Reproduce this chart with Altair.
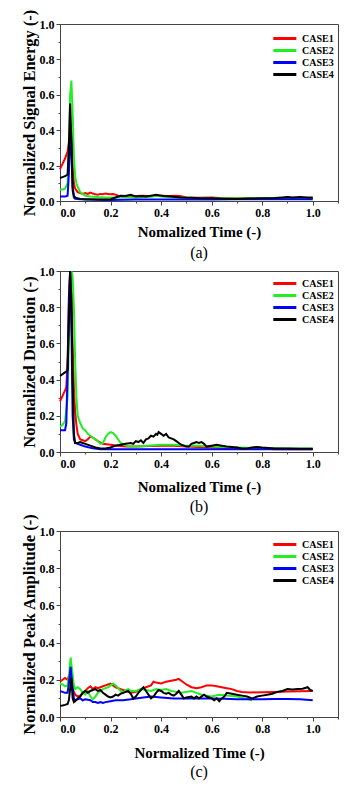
import altair as alt
import pandas as pd

CASES = ["CASE1", "CASE2", "CASE3", "CASE4"]
COLORS = ["#FF0000", "#22EE22", "#0000FF", "#000000"]
X_TICKS = [0.0, 0.1, 0.2, 0.3, 0.4, 0.5, 0.6, 0.7, 0.8, 0.9, 1.0, 1.1]
Y_TICKS = [0.0, 0.1, 0.2, 0.3, 0.4, 0.5, 0.6, 0.7, 0.8, 0.9, 1.0]

# ---- panel (a): Normalized Signal Energy ----
a_case1 = [(0, 0.18), (0.01, 0.21), (0.02, 0.24), (0.03, 0.28), (0.035, 0.33), (0.04, 0.42), (0.045, 0.38),
           (0.05, 0.2), (0.055, 0.1), (0.06, 0.07), (0.07, 0.05), (0.08, 0.045), (0.09, 0.04), (0.1, 0.045),
           (0.11, 0.04), (0.12, 0.048), (0.13, 0.042), (0.14, 0.038), (0.15, 0.035), (0.16, 0.04), (0.17, 0.038),
           (0.18, 0.042), (0.19, 0.04), (0.2, 0.038), (0.21, 0.04), (0.22, 0.036), (0.23, 0.03), (0.25, 0.028),
           (0.28, 0.03), (0.3, 0.028), (0.33, 0.03), (0.36, 0.027), (0.4, 0.03), (0.43, 0.028), (0.46, 0.03),
           (0.48, 0.027), (0.5, 0.02), (0.55, 0.018), (0.6, 0.02), (0.65, 0.016), (0.7, 0.015), (0.75, 0.016),
           (0.8, 0.015), (0.85, 0.016), (0.9, 0.018), (0.95, 0.017), (1.0, 0.016)]
a_case2 = [(0, 0.065), (0.01, 0.065), (0.02, 0.07), (0.03, 0.1), (0.035, 0.3), (0.04, 0.6), (0.045, 0.68),
           (0.05, 0.5), (0.055, 0.25), (0.06, 0.14), (0.065, 0.1), (0.07, 0.08), (0.08, 0.05), (0.09, 0.04),
           (0.1, 0.03), (0.12, 0.025), (0.15, 0.022), (0.18, 0.02), (0.2, 0.02), (0.22, 0.02), (0.25, 0.022),
           (0.3, 0.02), (0.35, 0.022), (0.38, 0.03), (0.4, 0.025), (0.45, 0.02), (0.5, 0.018), (0.6, 0.015),
           (0.7, 0.015), (0.8, 0.015), (0.9, 0.015), (1.0, 0.015)]
a_case3 = [(0, 0.025), (0.02, 0.025), (0.03, 0.03), (0.035, 0.15), (0.04, 0.35), (0.043, 0.4), (0.047, 0.2),
           (0.05, 0.06), (0.055, 0.02), (0.06, 0.012), (0.08, 0.01), (0.1, 0.008), (0.2, 0.006), (0.3, 0.008),
           (0.4, 0.008), (0.5, 0.008), (0.6, 0.008), (0.7, 0.01), (0.8, 0.01), (0.9, 0.01), (1.0, 0.01)]
a_case4 = [(0, 0.13), (0.01, 0.135), (0.02, 0.14), (0.03, 0.15), (0.035, 0.3), (0.04, 0.55), (0.045, 0.35),
           (0.05, 0.08), (0.055, 0.03), (0.06, 0.02), (0.07, 0.015), (0.08, 0.012), (0.1, 0.01), (0.12, 0.01),
           (0.15, 0.008), (0.18, 0.008), (0.2, 0.01), (0.22, 0.02), (0.24, 0.03), (0.26, 0.028), (0.28, 0.035),
           (0.3, 0.025), (0.32, 0.028), (0.34, 0.025), (0.36, 0.03), (0.38, 0.035), (0.39, 0.033), (0.41, 0.028),
           (0.44, 0.025), (0.48, 0.02), (0.52, 0.018), (0.56, 0.015), (0.6, 0.015), (0.65, 0.013), (0.7, 0.012),
           (0.75, 0.014), (0.8, 0.015), (0.85, 0.017), (0.88, 0.02), (0.9, 0.022), (0.92, 0.02), (0.95, 0.023),
           (0.98, 0.02), (1.0, 0.02)]

# ---- panel (b): Normalized Duration ----
b_case1 = [(0, 0.28), (0.01, 0.31), (0.02, 0.34), (0.025, 0.36), (0.03, 0.5), (0.035, 0.8), (0.04, 1.0),
           (0.045, 0.9), (0.05, 0.6), (0.055, 0.35), (0.06, 0.22), (0.065, 0.15), (0.07, 0.1), (0.08, 0.07),
           (0.09, 0.065), (0.1, 0.06), (0.11, 0.07), (0.12, 0.085), (0.13, 0.08), (0.14, 0.07), (0.15, 0.06),
           (0.17, 0.045), (0.2, 0.04), (0.23, 0.035), (0.26, 0.03), (0.3, 0.03), (0.35, 0.033), (0.4, 0.035),
           (0.45, 0.035), (0.5, 0.03), (0.55, 0.028), (0.6, 0.025), (0.7, 0.02), (0.8, 0.02), (0.85, 0.015),
           (0.9, 0.015), (1.0, 0.015)]
b_case2 = [(0, 0.14), (0.01, 0.15), (0.02, 0.17), (0.03, 0.3), (0.035, 0.6), (0.04, 0.9), (0.045, 1.0),
           (0.05, 0.97), (0.055, 0.8), (0.06, 0.5), (0.065, 0.3), (0.07, 0.2), (0.08, 0.16), (0.09, 0.13),
           (0.1, 0.12), (0.11, 0.1), (0.12, 0.09), (0.13, 0.08), (0.14, 0.07), (0.15, 0.06), (0.16, 0.045),
           (0.17, 0.05), (0.18, 0.08), (0.19, 0.1), (0.2, 0.11), (0.21, 0.105), (0.22, 0.09), (0.23, 0.07),
           (0.24, 0.05), (0.26, 0.035), (0.28, 0.03), (0.3, 0.03), (0.35, 0.035), (0.4, 0.04), (0.45, 0.04),
           (0.5, 0.035), (0.55, 0.035), (0.6, 0.03), (0.7, 0.025), (0.8, 0.022), (0.9, 0.02), (1.0, 0.02)]
b_case3 = [(0, 0.12), (0.01, 0.12), (0.02, 0.12), (0.025, 0.16), (0.03, 0.45), (0.035, 0.85), (0.04, 1.0),
           (0.045, 0.7), (0.05, 0.2), (0.055, 0.07), (0.06, 0.05), (0.07, 0.045), (0.08, 0.04), (0.1, 0.03),
           (0.13, 0.02), (0.16, 0.015), (0.2, 0.015), (0.3, 0.015), (0.4, 0.015), (0.5, 0.015), (0.6, 0.015),
           (0.7, 0.015), (0.8, 0.015), (0.9, 0.015), (1.0, 0.015)]
b_case4 = [(0, 0.42), (0.01, 0.43), (0.02, 0.44), (0.03, 0.45), (0.035, 0.7), (0.04, 1.0), (0.045, 0.85),
           (0.05, 0.4), (0.055, 0.1), (0.06, 0.05), (0.065, 0.05), (0.07, 0.05), (0.08, 0.055), (0.09, 0.05),
           (0.1, 0.045), (0.12, 0.035), (0.14, 0.025), (0.16, 0.02), (0.18, 0.02), (0.2, 0.025), (0.22, 0.035),
           (0.24, 0.04), (0.26, 0.045), (0.28, 0.05), (0.29, 0.045), (0.3, 0.06), (0.31, 0.055), (0.32, 0.065),
           (0.33, 0.05), (0.34, 0.07), (0.35, 0.075), (0.36, 0.09), (0.37, 0.085), (0.38, 0.1), (0.385, 0.095),
           (0.39, 0.11), (0.4, 0.1), (0.41, 0.09), (0.42, 0.1), (0.43, 0.08), (0.44, 0.075), (0.45, 0.07),
           (0.46, 0.06), (0.47, 0.05), (0.48, 0.04), (0.49, 0.035), (0.5, 0.03), (0.51, 0.03), (0.52, 0.045),
           (0.53, 0.05), (0.54, 0.055), (0.55, 0.05), (0.56, 0.055), (0.57, 0.045), (0.58, 0.03), (0.6, 0.035),
           (0.62, 0.04), (0.64, 0.035), (0.66, 0.03), (0.7, 0.025), (0.72, 0.02), (0.74, 0.02), (0.76, 0.025),
           (0.78, 0.028), (0.8, 0.025), (0.85, 0.02), (0.9, 0.02), (0.95, 0.018), (1.0, 0.018)]

# ---- panel (c): Normalized Peak Amplitude ----
c_case1 = [(0, 0.19), (0.01, 0.2), (0.02, 0.21), (0.03, 0.2), (0.035, 0.22), (0.04, 0.24), (0.045, 0.2),
           (0.05, 0.15), (0.06, 0.12), (0.07, 0.11), (0.08, 0.115), (0.09, 0.13), (0.1, 0.14), (0.11, 0.155),
           (0.12, 0.165), (0.13, 0.15), (0.14, 0.16), (0.15, 0.155), (0.16, 0.16), (0.17, 0.165), (0.18, 0.17),
           (0.19, 0.175), (0.2, 0.18), (0.21, 0.17), (0.22, 0.16), (0.24, 0.15), (0.26, 0.14), (0.28, 0.13),
           (0.3, 0.135), (0.32, 0.15), (0.34, 0.16), (0.36, 0.17), (0.37, 0.19), (0.38, 0.185), (0.4, 0.18),
           (0.42, 0.19), (0.44, 0.195), (0.46, 0.2), (0.47, 0.205), (0.48, 0.195), (0.5, 0.175), (0.52, 0.16),
           (0.54, 0.155), (0.56, 0.16), (0.58, 0.17), (0.6, 0.17), (0.62, 0.165), (0.64, 0.16), (0.66, 0.155),
           (0.68, 0.15), (0.7, 0.14), (0.72, 0.135), (0.75, 0.132), (0.8, 0.133), (0.85, 0.135), (0.9, 0.137),
           (0.95, 0.138), (1.0, 0.14)]
c_case2 = [(0, 0.18), (0.01, 0.175), (0.02, 0.165), (0.03, 0.17), (0.035, 0.22), (0.042, 0.32), (0.048, 0.25),
           (0.055, 0.17), (0.06, 0.15), (0.07, 0.16), (0.08, 0.15), (0.09, 0.13), (0.1, 0.12), (0.11, 0.14),
           (0.12, 0.11), (0.13, 0.095), (0.14, 0.11), (0.15, 0.13), (0.16, 0.14), (0.17, 0.15), (0.18, 0.155),
           (0.19, 0.16), (0.2, 0.17), (0.21, 0.18), (0.22, 0.17), (0.23, 0.155), (0.24, 0.14), (0.25, 0.13),
           (0.26, 0.145), (0.27, 0.15), (0.28, 0.14), (0.3, 0.14), (0.32, 0.15), (0.34, 0.145), (0.36, 0.14),
           (0.38, 0.15), (0.4, 0.145), (0.42, 0.15), (0.44, 0.14), (0.46, 0.135), (0.48, 0.13), (0.5, 0.135),
           (0.52, 0.14), (0.54, 0.13), (0.56, 0.12), (0.58, 0.115), (0.6, 0.11), (0.63, 0.12), (0.66, 0.115),
           (0.7, 0.11), (0.73, 0.1), (0.76, 0.09)]
c_case3 = [(0, 0.14), (0.01, 0.135), (0.02, 0.13), (0.03, 0.13), (0.035, 0.18), (0.042, 0.27), (0.048, 0.18),
           (0.055, 0.1), (0.06, 0.09), (0.07, 0.095), (0.08, 0.1), (0.09, 0.09), (0.1, 0.095), (0.12, 0.09),
           (0.13, 0.08), (0.14, 0.08), (0.15, 0.075), (0.16, 0.08), (0.17, 0.075), (0.18, 0.08), (0.2, 0.085),
           (0.22, 0.09), (0.25, 0.09), (0.28, 0.095), (0.3, 0.1), (0.33, 0.105), (0.36, 0.11), (0.4, 0.105),
           (0.45, 0.1), (0.5, 0.1), (0.55, 0.1), (0.6, 0.1), (0.65, 0.098), (0.7, 0.095), (0.75, 0.095),
           (0.8, 0.095), (0.85, 0.097), (0.9, 0.097), (0.95, 0.095), (1.0, 0.09)]
c_case4 = [(0, 0.06), (0.01, 0.062), (0.02, 0.065), (0.03, 0.07), (0.035, 0.09), (0.04, 0.15), (0.045, 0.21),
           (0.05, 0.1), (0.055, 0.08), (0.06, 0.085), (0.07, 0.1), (0.08, 0.11), (0.09, 0.13), (0.1, 0.14),
           (0.11, 0.13), (0.12, 0.14), (0.13, 0.145), (0.14, 0.15), (0.15, 0.14), (0.16, 0.145), (0.17, 0.13),
           (0.18, 0.12), (0.19, 0.11), (0.2, 0.105), (0.21, 0.11), (0.22, 0.12), (0.23, 0.115), (0.24, 0.125),
           (0.25, 0.13), (0.26, 0.135), (0.27, 0.14), (0.28, 0.125), (0.29, 0.1), (0.3, 0.11), (0.31, 0.13),
           (0.32, 0.145), (0.33, 0.16), (0.34, 0.14), (0.35, 0.12), (0.36, 0.1), (0.37, 0.11), (0.38, 0.13),
           (0.39, 0.145), (0.4, 0.14), (0.41, 0.13), (0.42, 0.125), (0.43, 0.13), (0.44, 0.12), (0.45, 0.115),
           (0.46, 0.125), (0.47, 0.14), (0.48, 0.12), (0.49, 0.1), (0.5, 0.105), (0.52, 0.11), (0.53, 0.1),
           (0.54, 0.11), (0.55, 0.1), (0.56, 0.11), (0.57, 0.12), (0.58, 0.11), (0.6, 0.1), (0.61, 0.09),
           (0.62, 0.1), (0.63, 0.085), (0.64, 0.1), (0.65, 0.11), (0.66, 0.13), (0.68, 0.125), (0.7, 0.12),
           (0.72, 0.115), (0.74, 0.11), (0.76, 0.1), (0.78, 0.11), (0.8, 0.115), (0.82, 0.12), (0.84, 0.125),
           (0.86, 0.135), (0.88, 0.14), (0.9, 0.15), (0.92, 0.148), (0.94, 0.15), (0.96, 0.152), (0.98, 0.16),
           (0.99, 0.145), (1.0, 0.14)]

FONT = "Liberation Serif"
MAJOR = "round(datum.value * 10) % 2 == 0"


def to_frame(series):
    rows = []
    for case, pts in zip(CASES, series):
        for t, v in pts:
            rows.append({"t": t, "v": v, "case": case})
    return pd.DataFrame(rows)


def panel(series, ytitle, xtitle, caption, height, xpad, cap_off, leg_y, extra=0):
    df = to_frame(series)
    xaxis = alt.Axis(values=X_TICKS, title=xtitle, grid=False, labelOverlap=False,
                     labelExpr=MAJOR + " ? format(datum.value, '.1f') : ''",
                     tickSize={"condition": {"test": MAJOR, "value": 4}, "value": 2},
                     titlePadding=xpad)
    yaxis = alt.Axis(values=Y_TICKS, title=ytitle, grid=False, labelOverlap=False,
                     labelExpr=MAJOR + " ? format(datum.value, '.1f') : ''",
                     tickSize={"condition": {"test": MAJOR, "value": 4}, "value": 2},
                     titlePadding=2, titleFontSize=16.5)
    legend = alt.Legend(title=None, orient="none", legendX=227, legendY=leg_y,
                        symbolType="M-5,0H1", symbolSize=59, symbolStrokeWidth=3,
                        labelFont=FONT, labelFontWeight="bold", labelFontSize=10,
                        labelOffset=4, rowPadding=-1)
    tparams = dict(text=caption, orient="bottom", font=FONT, fontSize=16,
                   fontWeight="normal", offset=cap_off, color="#000")
    if extra:
        tparams.update(subtitle=" ", subtitleFontSize=1, subtitlePadding=extra)
    return alt.Chart(df).mark_line(strokeWidth=2).encode(
        x=alt.X("t:Q", scale=alt.Scale(domain=[0, 1.1], nice=False), axis=xaxis),
        y=alt.Y("v:Q", scale=alt.Scale(domain=[0, 1], nice=False), axis=yaxis),
        color=alt.Color("case:N", scale=alt.Scale(domain=CASES, range=COLORS), legend=legend),
        order=alt.Order("case:N"),
    ).properties(
        width=278, height=height,
        title=alt.TitleParams(**tparams),
    )


pa = panel([a_case1, a_case2, a_case3, a_case4], "Normalized Signal Energy (-)",
           "Nomalized Time (-)", "(a)", 177, 6, 6, 9, extra=5)
pb = panel([b_case1, b_case2, b_case3, b_case4], "Normalized Duration (-)",
           "Nomalized Time (-)", "(b)", 181, 10, 5, 7)
pc = panel([c_case1, c_case2, c_case3, c_case4], "Normalized Peak Amplitude (-)",
           "Normalized Time (-)", "(c)", 186, 11, 4, 8)

chart = alt.vconcat(pa, pb, pc, spacing=-4).resolve_legend(
    color="independent"
).properties(
    padding={"left": 12, "top": 0, "right": 5, "bottom": 5},
    background="white",
).configure_view(
    stroke="#444", strokeWidth=1
).configure_axis(
    labelFont=FONT, labelFontWeight="bold", labelFontSize=12, labelColor="#000",
    titleFont=FONT, titleFontWeight="bold", titleFontSize=15, titleColor="#000",
    domainColor="#444", tickColor="#444", labelPadding=2,
)

chart.save("out.html", embed_options={"renderer": "svg", "actions": False})
